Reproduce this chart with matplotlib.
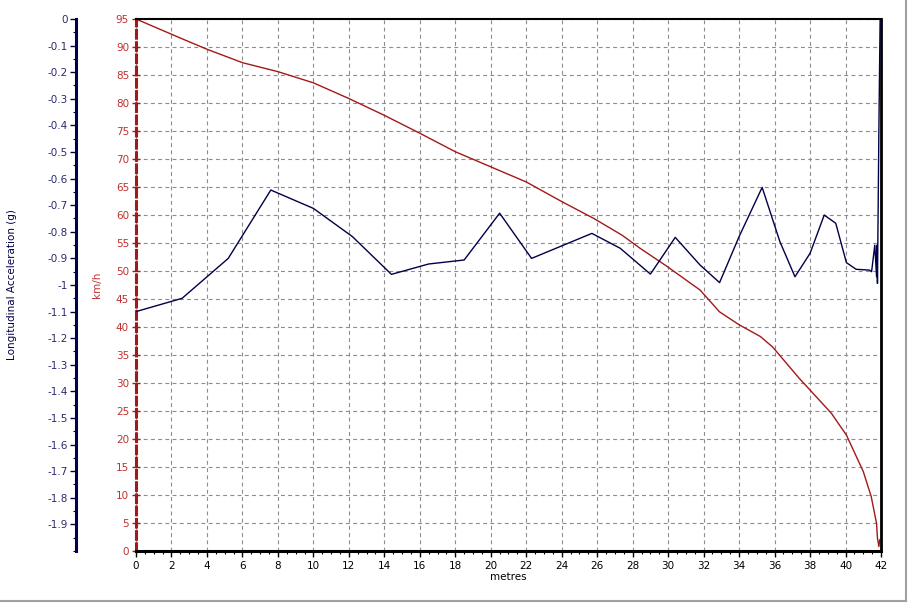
import numpy as np
import matplotlib.pyplot as plt
from matplotlib.ticker import MultipleLocator
from matplotlib.lines import Line2D

plt.rcParams['font.family'] = ['DejaVu Sans']
plt.rcParams['font.size'] = 7.5

# speed trace (km/h) vs distance (m)
dist_speed = [0, 2.5, 4.0, 6.0, 8.0, 10.0, 12.0, 14.0, 16.0, 18.0, 20.0, 22.0,
              24.0, 25.8, 27.4, 28.4, 29.9, 31.8, 32.9, 34.0, 35.2, 35.9, 37.4,
              38.1, 39.2, 40.05, 41.0, 41.45, 41.75, 41.8, 41.88, 41.93]
speed = [95.0, 91.6, 89.6, 87.2, 85.6, 83.6, 80.8, 77.8, 74.6, 71.3, 68.6, 65.9,
         62.4, 59.4, 56.4, 54.1, 50.9, 46.6, 42.7, 40.4, 38.3, 36.4, 30.8,
         28.4, 24.6, 20.7, 14.2, 9.7, 4.9, 2.3, 0.8, 2.0]

# longitudinal acceleration (g) vs distance (m)
dist_accel = [0.0, 2.6, 5.2, 7.6, 10.0, 12.2, 14.4, 16.5, 18.5, 20.5, 22.3, 25.7,
              27.3, 29.0, 30.4, 31.8, 32.9, 34.0, 35.3, 36.3, 37.15, 38.0, 38.8,
              39.45, 40.05, 40.6, 41.35, 41.47, 41.65, 41.75, 41.78, 41.8, 41.88, 41.95]
accel = [-1.10, -1.05, -0.90, -0.643, -0.712, -0.818, -0.96, -0.921, -0.906, -0.73,
         -0.90, -0.806, -0.862, -0.959, -0.821, -0.925, -0.991, -0.818, -0.633,
         -0.837, -0.969, -0.881, -0.737, -0.768, -0.916, -0.941, -0.944, -0.95,
         -0.85, -0.969, -0.85, -0.994, -0.42, 0.0]

red = '#a31818'
red_txt = '#c03030'
navy = '#000048'
navy_txt = '#2a2a6e'

fig = plt.figure(figsize=(9.08, 6.05), dpi=100)
W, H = 908, 605
ax = fig.add_axes([136 / W, 1 - 551 / H, 745 / W, 532 / H])

ax.plot(dist_speed, speed, color=red, lw=1)
ax.set_xlim(0, 42)
ax.set_ylim(0, 95)
ax.xaxis.set_major_locator(MultipleLocator(2))
ax.xaxis.set_minor_locator(MultipleLocator(0.5))
ax.yaxis.set_major_locator(MultipleLocator(5))
ax.grid(True, color='#8c8c8c', ls=(0, (3.5, 3)), lw=0.8)
ax.set_xlabel('metres', labelpad=1)
ax.set_ylabel('km/h', color=red_txt, labelpad=10)
ax.tick_params(axis='x', direction='out', length=4, width=1, colors='black', pad=3)
ax.tick_params(axis='x', which='minor', direction='out', length=2, width=0.8)
ax.tick_params(axis='y', direction='inout', length=6, width=1, colors=red, labelcolor=red_txt, pad=2)

ax.spines['left'].set_color(red)
ax.spines['left'].set_linewidth(2.2)
ax.spines['left'].set_linestyle((0, (2.5, 1.5)))
ax.spines['bottom'].set_linewidth(2.2)
ax.spines['top'].set_linewidth(1.5)
ax.spines['right'].set_linewidth(2)

ax2 = ax.twinx()
ax2.plot(dist_accel, accel, color=navy, lw=1)
ax2.set_ylim(-2, 0)
ax2.yaxis.set_ticks_position('left')
ax2.yaxis.set_label_position('left')
ax2.spines['left'].set_position(('axes', -60 / 745))
for s in ['right', 'top', 'bottom']:
    ax2.spines[s].set_visible(False)
ax2.spines['left'].set_color(navy)
ax2.spines['left'].set_linewidth(2.2)
ax2.yaxis.set_minor_locator(MultipleLocator(0.05))
ticks = np.round(np.arange(-1.9, 0.01, 0.1), 1)
ax2.set_yticks(ticks)
ax2.set_yticklabels(['0' if t == 0 else f'{t:g}' for t in ticks])
ax2.tick_params(axis='y', direction='out', length=4, width=1, colors=navy, labelcolor=navy_txt, pad=2)
ax2.tick_params(axis='y', which='minor', direction='out', length=2, width=0.8, colors=navy)
ax2.set_ylabel('Longitudinal Acceleration (g)', color=navy, labelpad=22)

# window frame lines
fig.add_artist(Line2D([0, 906 / W], [1 - 601 / H, 1 - 601 / H], color='#a0a0a0', lw=1.5))
fig.add_artist(Line2D([906 / W, 906 / W], [1 - 601 / H, 1], color='#a0a0a0', lw=1.5))

fig.savefig('out.png', dpi=100)
